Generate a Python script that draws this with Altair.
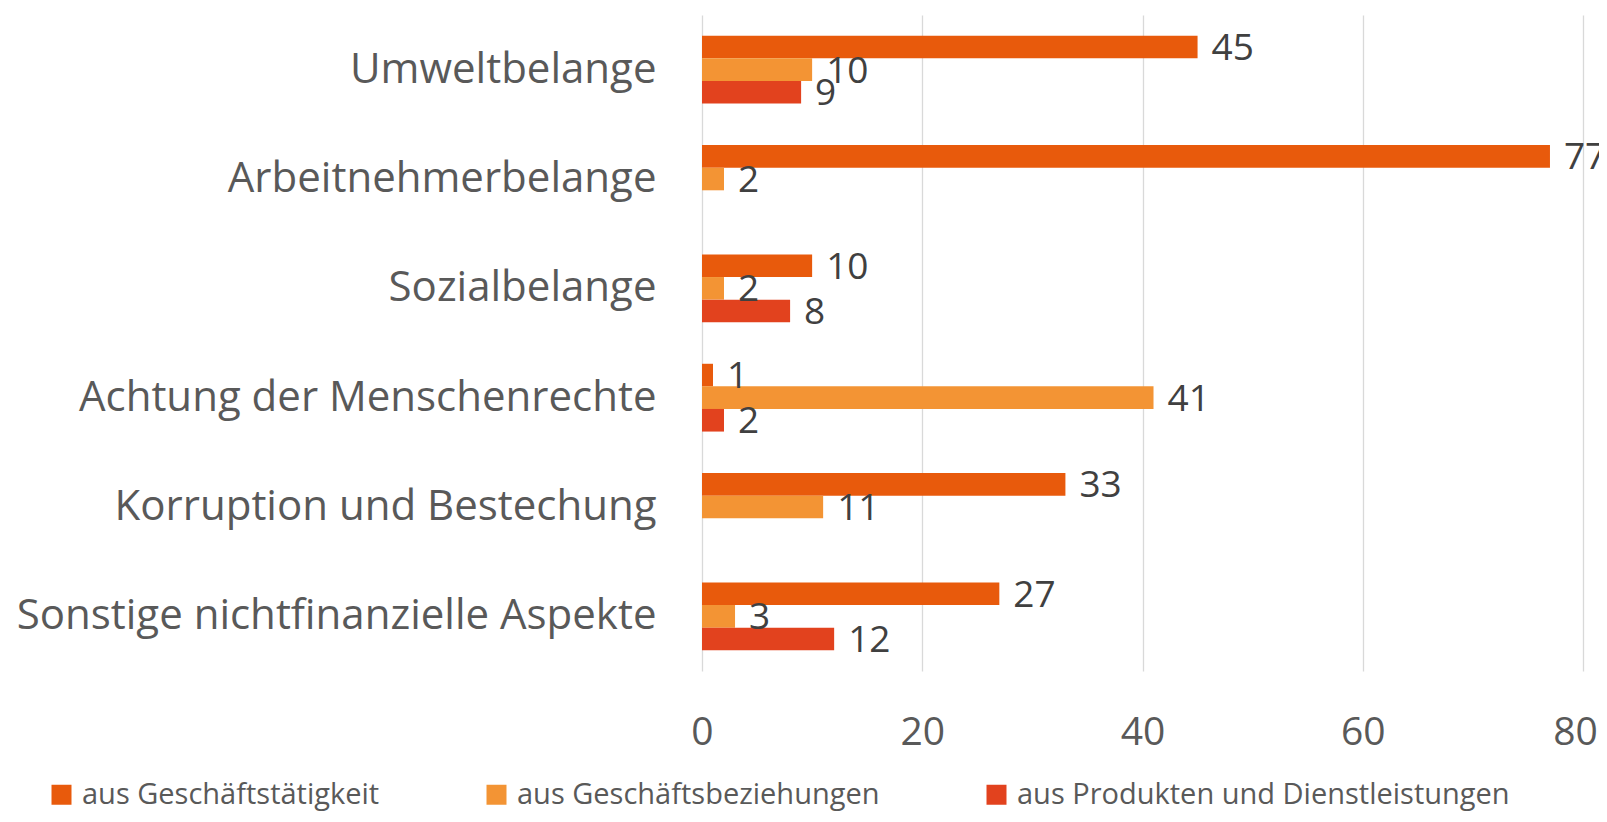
import altair as alt
import pandas as pd

categories = [
    "Umweltbelange",
    "Arbeitnehmerbelange",
    "Sozialbelange",
    "Achtung der Menschenrechte",
    "Korruption und Bestechung",
    "Sonstige nichtfinanzielle Aspekte",
]
series = [
    "aus Geschäftstätigkeit",
    "aus Geschäftsbeziehungen",
    "aus Produkten und Dienstleistungen",
]
geschaeftstaetigkeit = [45, 77, 10, 1, 33, 27]
geschaeftsbeziehungen = [10, 2, 2, 41, 11, 3]
produkte_dienstleistungen = [9, None, 8, 2, None, 12]
colors = ["#E85A0C", "#F39434", "#E2421E"]
x_ticks = [0, 20, 40, 60, 80]

rows = []
for s, vals in zip(series, [geschaeftstaetigkeit, geschaeftsbeziehungen, produkte_dienstleistungen]):
    for c, v in zip(categories, vals):
        if v is not None:
            rows.append({"Kategorie": c, "Reihe": s, "Wert": v})
df = pd.DataFrame(rows)

FONT = "Open Sans"

y_enc = alt.Y(
    "Kategorie:N",
    sort=categories,
    scale=alt.Scale(domain=categories, paddingInner=0.38, paddingOuter=0.19),
    axis=alt.Axis(
        title=None, labelFontSize=42, labelColor="#595959", labelFont=FONT,
        ticks=False, domain=False, labelPadding=46, labelLimit=1000,
    ),
)
yoff_enc = alt.YOffset(
    "Reihe:N", sort=series,
    scale=alt.Scale(domain=series, paddingInner=0, paddingOuter=0),
)
x_enc = alt.X(
    "Wert:Q",
    scale=alt.Scale(domain=[0, 80], nice=False),
    axis=alt.Axis(
        title=None, values=x_ticks, grid=True, gridColor="#D9D9D9", gridWidth=1.3,
        domain=False, ticks=False, labelFontSize=39, labelColor="#595959",
        labelFont=FONT, labelPadding=42, labelFlush=False,
        labelOffset={"condition": {"test": "datum.value == 80", "value": -8}, "value": 0},
    ),
)

base = alt.Chart(df).encode(y=y_enc, yOffset=yoff_enc)

bars = base.mark_bar().encode(
    x=x_enc,
    color=alt.Color(
        "Reihe:N",
        sort=series,
        scale=alt.Scale(domain=series, range=colors),
        legend=alt.Legend(
            title=None, orient="none", legendX=-655, legendY=765,
            direction="horizontal", symbolType="square", symbolSize=400,
            symbolStrokeWidth=0, labelFontSize=29, labelFont=FONT,
            labelColor="#595959", columnPadding=102, labelOffset=6,
            labelLimit=1000,
        ),
    ),
)

labels = base.mark_text(
    align="left", baseline="middle", dx=14, dy=2, fontSize=37, font=FONT, color="#404040"
).encode(x=alt.X("Wert:Q"), text=alt.Text("Wert:Q"))

chart = (
    alt.layer(bars, labels)
    .properties(
        width=881, height=656,
        autosize=alt.AutoSizeParams(type="none"),
        padding={"left": 694, "top": 7, "right": 16, "bottom": 140},
    )
    .configure_view(stroke=None)
)

chart.save("out.html", embed_options={"renderer": "svg", "actions": False})
